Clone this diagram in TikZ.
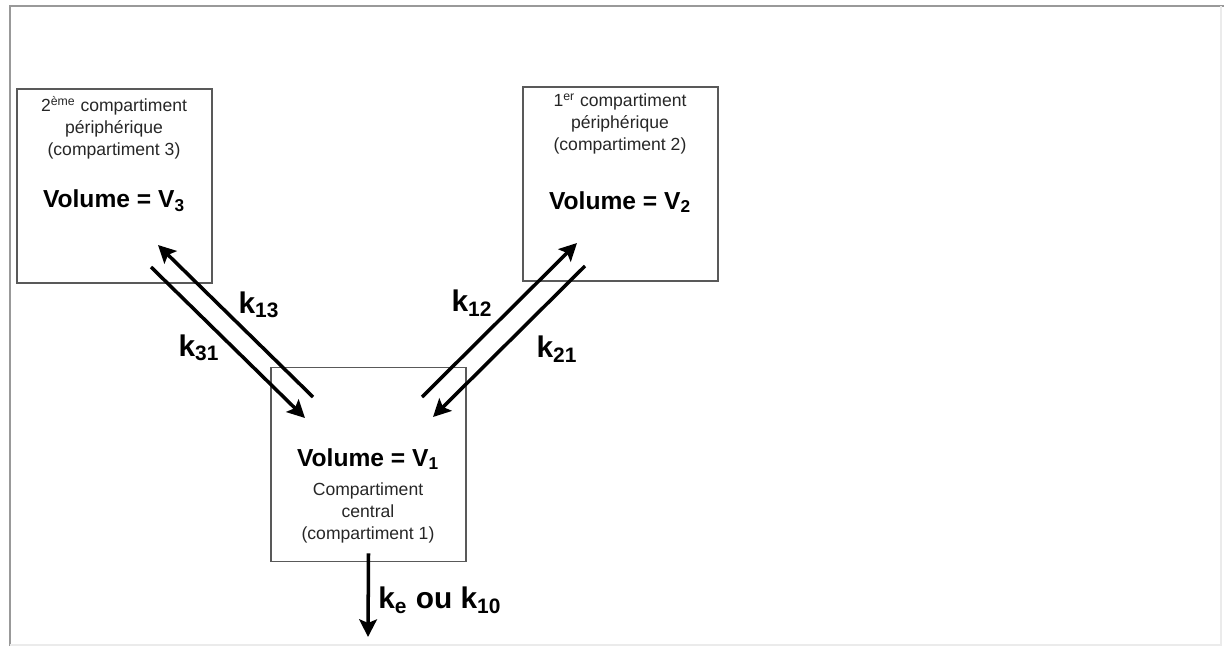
\documentclass[tikz,border=0pt]{standalone}
\usepackage{fontspec}
\setmainfont{Liberation Sans}
\usetikzlibrary{positioning,arrows.meta}
\tikzset{
  compbox/.style={draw=black!65, line width=0.8pt, minimum width=3.9cm, minimum height=3.88cm, inner sep=0pt},
  smalltxt/.style={font=\fontsize{10}{12.5}\selectfont, text=black!85, align=center, inner sep=0pt},
  voltxt/.style={font=\fontsize{14}{16}\selectfont\bfseries, inner sep=0pt},
  ktxt/.style={font=\fontsize{17}{19}\selectfont\bfseries, inner sep=0pt},
  flux/.style={line width=2pt, -{Stealth[length=10pt,width=10pt,inset=2pt]}}
}
\begin{document}
\begin{tikzpicture}[x=0.02cm,y=-0.02cm]
\useasboundingbox (0,0) rectangle (1224,646);
\draw[black!40, line width=0.9pt] (10,646) -- (10,6) -- (1224,6);
\draw[black!8, line width=0.8pt] (1221,6) -- (1221,645) -- (10,645);

\node[compbox] (comp3) at (114.5,186) {};
\node[compbox] (comp2) at (620.5,184) {};
\node[compbox] (comp1) at (368.5,464.5) {};

\node[smalltxt] (txt3) at (114,128) {2\textsuperscript{ème} compartiment\\périphérique\\(compartiment 3)};
\node[voltxt] (vol3) at (114,201) {Volume = V\textsubscript{3}};

\node[smalltxt] (txt2) at (620,124) {1\textsuperscript{er} compartiment\\périphérique\\(compartiment 2)};
\node[voltxt] (vol2) at (620,202) {Volume = V\textsubscript{2}};

\node[voltxt] (vol1) at (368,459) {Volume = V\textsubscript{1}};
\node[smalltxt] (txt1) at (368,513) {Compartiment\\central\\(compartiment 1)};

\coordinate (a13) at (313,397);
\coordinate (b13) at (158,245);
\coordinate (a31) at (151,267);
\coordinate (b31) at (305,418);
\coordinate (a12) at (422,397);
\coordinate (b12) at (577,243);
\coordinate (a21) at (585,266);
\coordinate (b21) at (433,417);
\coordinate (kout) at (368,637);

\draw[flux] (a13) -- (b13);
\draw[flux] (a31) -- (b31);
\draw[flux] (a12) -- (b12);
\draw[flux] (a21) -- (b21);
\draw[flux] ([yshift=5pt]comp1.south) -- (kout);

\node[ktxt] (k13) at (259,305) {k\textsubscript{13}};
\node[ktxt] (k31) at (199,348) {k\textsubscript{31}};
\node[ktxt] (k12) at (472,303) {k\textsubscript{12}};
\node[ktxt] (k21) at (557,349) {k\textsubscript{21}};
\node[ktxt, anchor=west] (kel) at (378,600) {k\textsubscript{e} ou k\textsubscript{10}};
\end{tikzpicture}
\end{document}
